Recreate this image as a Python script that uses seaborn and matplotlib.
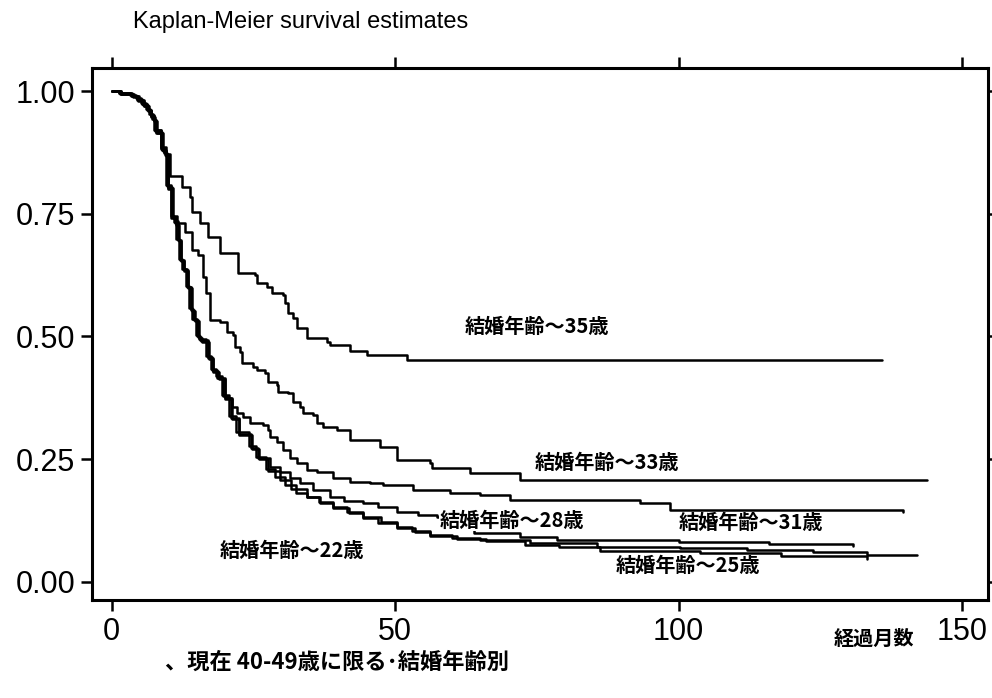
import matplotlib
matplotlib.use("Agg")
import matplotlib.pyplot as plt
import seaborn as sns
import pandas as pd

# ---- data (months, survival) ----
km_35 = [(0, 1.0), (1.4, 0.996), (3.6, 0.99), (4.5, 0.982), (5.4, 0.973), (6.2, 0.962),
         (7.0, 0.947), (7.6, 0.92), (8.6, 0.885), (9.6, 0.872), (10.2, 0.826), (12.4, 0.805),
         (13.8, 0.784), (14.1, 0.754), (15.5, 0.731), (16.9, 0.703), (19.1, 0.670),
         (22.2, 0.630), (25.2, 0.626), (25.6, 0.609), (27.4, 0.601), (28.2, 0.589),
         (30.2, 0.585), (30.5, 0.568), (31.1, 0.548), (31.9, 0.538), (32.6, 0.517),
         (34.4, 0.497), (37.9, 0.489), (38.5, 0.483), (42.0, 0.470), (45.0, 0.462),
         (52.1, 0.452), (135.9, 0.452)]
km_33 = [(0, 1.0), (1.6, 0.995), (3.8, 0.988), (4.7, 0.98), (5.6, 0.97), (6.4, 0.96),
         (6.9, 0.95), (7.4, 0.94), (7.8, 0.915), (8.9, 0.88), (9.4, 0.87), (9.9, 0.80),
         (10.7, 0.745), (11.5, 0.732), (12.9, 0.713), (14.1, 0.677), (15.2, 0.666),
         (16.1, 0.621), (16.6, 0.588), (17.3, 0.534), (19.1, 0.530), (20.3, 0.509),
         (21.4, 0.503), (21.7, 0.479), (22.6, 0.468), (22.9, 0.446), (24.9, 0.438),
         (25.6, 0.432), (27.0, 0.425), (27.6, 0.407), (29.1, 0.401), (29.4, 0.387),
         (31.1, 0.385), (31.9, 0.366), (33.2, 0.356), (33.7, 0.344), (35.5, 0.340),
         (36.2, 0.323), (37.2, 0.315), (39.7, 0.309), (42.0, 0.289), (47.3, 0.274),
         (50.3, 0.248), (56.1, 0.242), (56.5, 0.232), (63.2, 0.221), (72.0, 0.207),
         (143.8, 0.207)]
km_31 = [(0, 1.0), (1.3, 0.996), (3.4, 0.99), (4.4, 0.984), (5.3, 0.974), (6.2, 0.963),
         (6.7, 0.953), (7.2, 0.943), (7.6, 0.918), (8.7, 0.882), (9.3, 0.873), (9.7, 0.806),
         (10.5, 0.742), (11.1, 0.735), (11.6, 0.697), (12.1, 0.656), (12.6, 0.637),
         (13.3, 0.601), (13.9, 0.556), (14.4, 0.535), (15.0, 0.50), (15.6, 0.492),
         (16.9, 0.458), (17.7, 0.432), (18.6, 0.416), (19.7, 0.378), (20.3, 0.374),
         (21.2, 0.356), (22.1, 0.344), (23.1, 0.336), (24.4, 0.323), (26.6, 0.319),
         (27.5, 0.309), (27.9, 0.295), (29.1, 0.285), (30.2, 0.268), (31.4, 0.252),
         (32.6, 0.242), (34.4, 0.228), (36.2, 0.223), (39.0, 0.211), (42.0, 0.203),
         (45.5, 0.201), (47.8, 0.197), (53.1, 0.187), (59.6, 0.181), (65.0, 0.177),
         (70.2, 0.166), (93.2, 0.160), (98.5, 0.146), (139.6, 0.142)]
km_28 = [(0, 1.0), (1.5, 0.995), (3.6, 0.99), (4.6, 0.982), (5.5, 0.972), (6.4, 0.961),
         (6.9, 0.951), (7.4, 0.94), (7.8, 0.916), (8.9, 0.88), (9.5, 0.871), (9.9, 0.804),
         (10.7, 0.744), (11.2, 0.731), (11.7, 0.696), (12.2, 0.655), (12.7, 0.635),
         (13.4, 0.60), (14.0, 0.553), (14.5, 0.533), (15.2, 0.498), (15.8, 0.49),
         (17.0, 0.456), (17.8, 0.43), (18.8, 0.415), (19.9, 0.375), (21.1, 0.334),
         (22.4, 0.302), (24.6, 0.273), (25.8, 0.252), (27.9, 0.234), (29.6, 0.223),
         (31.5, 0.212), (33.2, 0.201), (35.5, 0.188), (38.5, 0.172), (41.0, 0.165),
         (44.3, 0.160), (47.0, 0.152), (50.3, 0.142), (54.0, 0.136), (57.3, 0.132),
         (61.0, 0.118), (64.0, 0.099), (72.0, 0.091), (78.5, 0.085), (100.0, 0.081),
         (116.0, 0.077), (130.8, 0.074)]
km_25 = [(0, 1.0), (1.7, 0.995), (3.9, 0.989), (4.8, 0.981), (5.7, 0.97), (6.5, 0.96),
         (7.0, 0.949), (7.5, 0.938), (7.9, 0.914), (9.0, 0.878), (9.6, 0.868), (10.0, 0.802),
         (10.8, 0.742), (11.3, 0.728), (11.8, 0.694), (12.3, 0.653), (12.8, 0.633),
         (13.5, 0.598), (14.1, 0.551), (14.6, 0.531), (15.3, 0.496), (15.9, 0.488),
         (17.1, 0.454), (17.9, 0.428), (18.9, 0.413), (20.0, 0.373), (21.2, 0.332),
         (22.5, 0.30), (24.7, 0.271), (25.9, 0.25), (27.6, 0.225), (29.6, 0.207),
         (31.6, 0.19), (34.4, 0.172), (36.5, 0.162), (39.0, 0.150), (41.8, 0.140),
         (44.3, 0.130), (47.0, 0.120), (50.3, 0.109), (53.5, 0.101), (56.1, 0.094),
         (61.0, 0.088), (66.0, 0.083), (73.0, 0.076), (79.0, 0.070), (86.1, 0.062),
         (103.8, 0.058), (118.0, 0.052), (133.2, 0.046)]
km_22 = [(0, 1.0), (1.2, 0.997), (3.3, 0.991), (4.3, 0.985), (5.2, 0.975), (6.1, 0.964),
         (6.6, 0.954), (7.1, 0.944), (7.5, 0.92), (8.6, 0.884), (9.2, 0.875), (9.6, 0.808),
         (10.4, 0.746), (11.0, 0.733), (11.4, 0.699), (11.9, 0.658), (12.4, 0.638),
         (13.1, 0.603), (13.7, 0.557), (14.2, 0.536), (14.9, 0.502), (15.4, 0.494),
         (16.7, 0.46), (17.5, 0.434), (18.4, 0.419), (19.5, 0.38), (20.6, 0.338),
         (21.9, 0.305), (24.2, 0.276), (25.4, 0.255), (27.2, 0.229), (28.8, 0.214),
         (30.5, 0.198), (32.5, 0.182), (34.4, 0.172), (36.8, 0.160), (39.0, 0.152),
         (41.5, 0.142), (44.3, 0.132), (47.5, 0.121), (50.3, 0.111), (53.0, 0.103),
         (56.1, 0.095), (60.0, 0.090), (65.0, 0.085), (73.8, 0.079), (85.6, 0.070),
         (100.2, 0.068), (112.0, 0.064), (123.7, 0.060), (133.2, 0.054), (142.0, 0.054)]

groups = ["結婚年齢〜35歳", "結婚年齢〜33歳", "結婚年齢〜31歳",
          "結婚年齢〜28歳", "結婚年齢〜25歳", "結婚年齢〜22歳"]
curves = [km_35, km_33, km_31, km_28, km_25, km_22]
label_pos = [(75.0, 0.521), (87.3, 0.244), (112.8, 0.121),
             (70.6, 0.126), (101.6, 0.034), (31.8, 0.064)]

x_ticks = [0, 50, 100, 150]
y_ticks = [0.0, 0.25, 0.5, 0.75, 1.0]
y_ticklabels = ["0.00", "0.25", "0.50", "0.75", "1.00"]

rows = []
for g, c in zip(groups, curves):
    for t, s in c:
        rows.append({"group": g, "month": t, "surv": s})
df = pd.DataFrame(rows)

# ---- plot ----
sns.set_style("ticks")
plt.rcParams["font.family"] = ["Liberation Sans", "Noto Sans CJK JP", "DejaVu Sans"]
plt.rcParams["text.color"] = "black"
cjk = ["Noto Sans CJK JP", "DejaVu Sans"]

fig = plt.figure(figsize=(9.92, 6.98), dpi=100)
ax = fig.add_axes([0.0927, 0.1404, 0.9032, 0.7622])

sns.lineplot(data=df, x="month", y="surv", units="group", estimator=None,
             sort=False, color="black", drawstyle="steps-post", linewidth=1.8,
             ax=ax, legend=False)

ax.set_xlim(-3.5, 154.6)
ax.set_ylim(-0.037, 1.047)
ax.set_xticks(x_ticks)
ax.set_xticklabels([str(v) for v in x_ticks])
ax.set_yticks(y_ticks)
ax.set_yticklabels(y_ticklabels)
ax.set_xlabel("")
ax.set_ylabel("")
for sp in ax.spines.values():
    sp.set_visible(True)
    sp.set_linewidth(2.2)
    sp.set_color("black")
ax.tick_params(direction="out", length=8, width=1.8, top=True, right=True,
               labeltop=False, labelright=False, labelsize=22, colors="black", pad=4)

for g, (lx, ly) in zip(groups, label_pos):
    kw = {}
    if g.endswith("28歳"):
        kw["bbox"] = dict(facecolor="white", edgecolor="none", pad=0.5)
    ax.text(lx, ly, g, family=cjk, fontsize=14.5, fontweight="bold",
            ha="center", va="center", color="black", **kw)

ax.text(134.5, -0.116, "経過月数", family=cjk, fontsize=14.5, fontweight="bold",
        ha="center", va="center", clip_on=False, color="black")

fig.text(133 / 992, 1 - 22 / 698, "Kaplan-Meier survival estimates",
         fontsize=17, ha="left", va="center", family=["Liberation Sans"], color="black")
fig.text(337 / 992, 1 - 662 / 698, "、現在 40-49歳に限る･結婚年齢別",
         family=cjk, fontsize=16, fontweight="bold", ha="center", va="center",
         color="black")

fig.savefig("out.png", dpi=100)
